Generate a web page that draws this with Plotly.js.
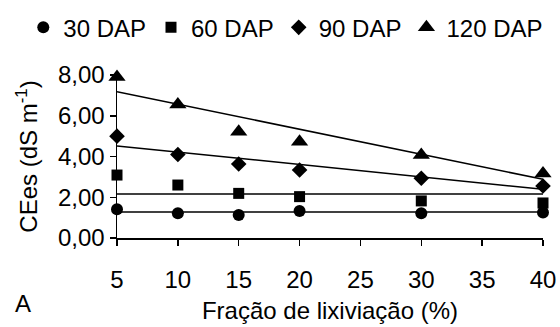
<!DOCTYPE html>
<html><head><meta charset="utf-8">
<script src="https://cdn.plot.ly/plotly-3.0.1.min.js"></script>
<style>html,body{margin:0;padding:0;background:#fff}#chart{width:560px;height:327px}</style>
</head><body><div id="chart"></div>
<script>
const fracao = [5, 10, 15, 20, 30, 40];
const dap30 = [1.41, 1.21, 1.13, 1.33, 1.21, 1.25];
const dap60 = [3.09, 2.60, 2.19, 2.03, 1.82, 1.72];
const dap90 = [5.00, 4.10, 3.63, 3.34, 2.93, 2.55];
const dap120 = [7.90, 6.55, 5.22, 4.73, 4.07, 3.17];
const trendX = [5, 40];
const trend30 = [1.27, 1.27];
const trend60 = [2.16, 2.16];
const trend90 = [4.52, 2.39];
const trend120 = [7.18, 2.88];
const seriesNames = ['30 DAP', '60 DAP', '90 DAP', '120 DAP'];
const xTicks = [5, 10, 15, 20, 25, 30, 35, 40];
const yTicks = [0, 2, 4, 6, 8];
const yTickText = ['0,00', '2,00', '4,00', '6,00', '8,00'];

const font = {family: 'Arial, Liberation Sans, sans-serif', size: 24, color: '#000'};
const symbols = ['circle', 'square', 'diamond', 'triangle-up'];
const sizes = [12, 11, 12, 15];
const data = [];
const values = [dap30, dap60, dap90, dap120];
const trends = [trend30, trend60, trend90, trend120];
for (let i = 0; i < 4; i++) {
  data.push({x: trendX, y: trends[i], mode: 'lines', line: {color: '#000', width: 1.5}, showlegend: false, hoverinfo: 'skip', cliponaxis: false});
}
for (let i = 0; i < 4; i++) {
  data.push({x: fracao, y: values[i], mode: 'markers', name: seriesNames[i], cliponaxis: false,
    marker: {symbol: symbols[i], size: sizes[i], color: '#000'}});
}
const layout = {
  width: 560, height: 327,
  margin: {l: 117, r: 17, t: 75, b: 89, autoexpand: false},
  paper_bgcolor: '#fff', plot_bgcolor: '#fff',
  font: font,
  showlegend: true,
  legend: {orientation: 'h', x: -0.22, y: 1.29, xanchor: 'left', yanchor: 'middle', font: font, itemwidth: 30, tracegroupgap: 0, bgcolor: 'rgba(0,0,0,0)'},
  xaxis: {range: [5, 40], tickvals: xTicks, ticktext: xTicks.map(String), showgrid: false, zeroline: false,
    showline: true, linecolor: '#000', linewidth: 1.5, ticks: 'outside', ticklen: 6, tickwidth: 1.5, tickcolor: '#000',
    ticklabelstandoff: 14, tickfont: font, automargin: false,
    title: {text: 'Fração de lixiviação (%)', font: font, standoff: 10}},
  yaxis: {range: [0, 8], tickvals: yTicks, ticktext: yTickText, showgrid: false, zeroline: false,
    showline: true, linecolor: '#000', linewidth: 1.5, ticks: 'outside', ticklen: 6, tickwidth: 1.5, tickcolor: '#000',
    tickfont: font, automargin: false,
    title: {text: 'CEes (dS m<sup>-1</sup>)', font: font, standoff: 13}},
  annotations: [{text: 'A', xref: 'paper', yref: 'paper', x: -0.22, y: -0.40, xanchor: 'center', yanchor: 'middle', showarrow: false, font: font}]
};
Plotly.newPlot('chart', data, layout, {staticPlot: true, displayModeBar: false});
</script></body></html>
